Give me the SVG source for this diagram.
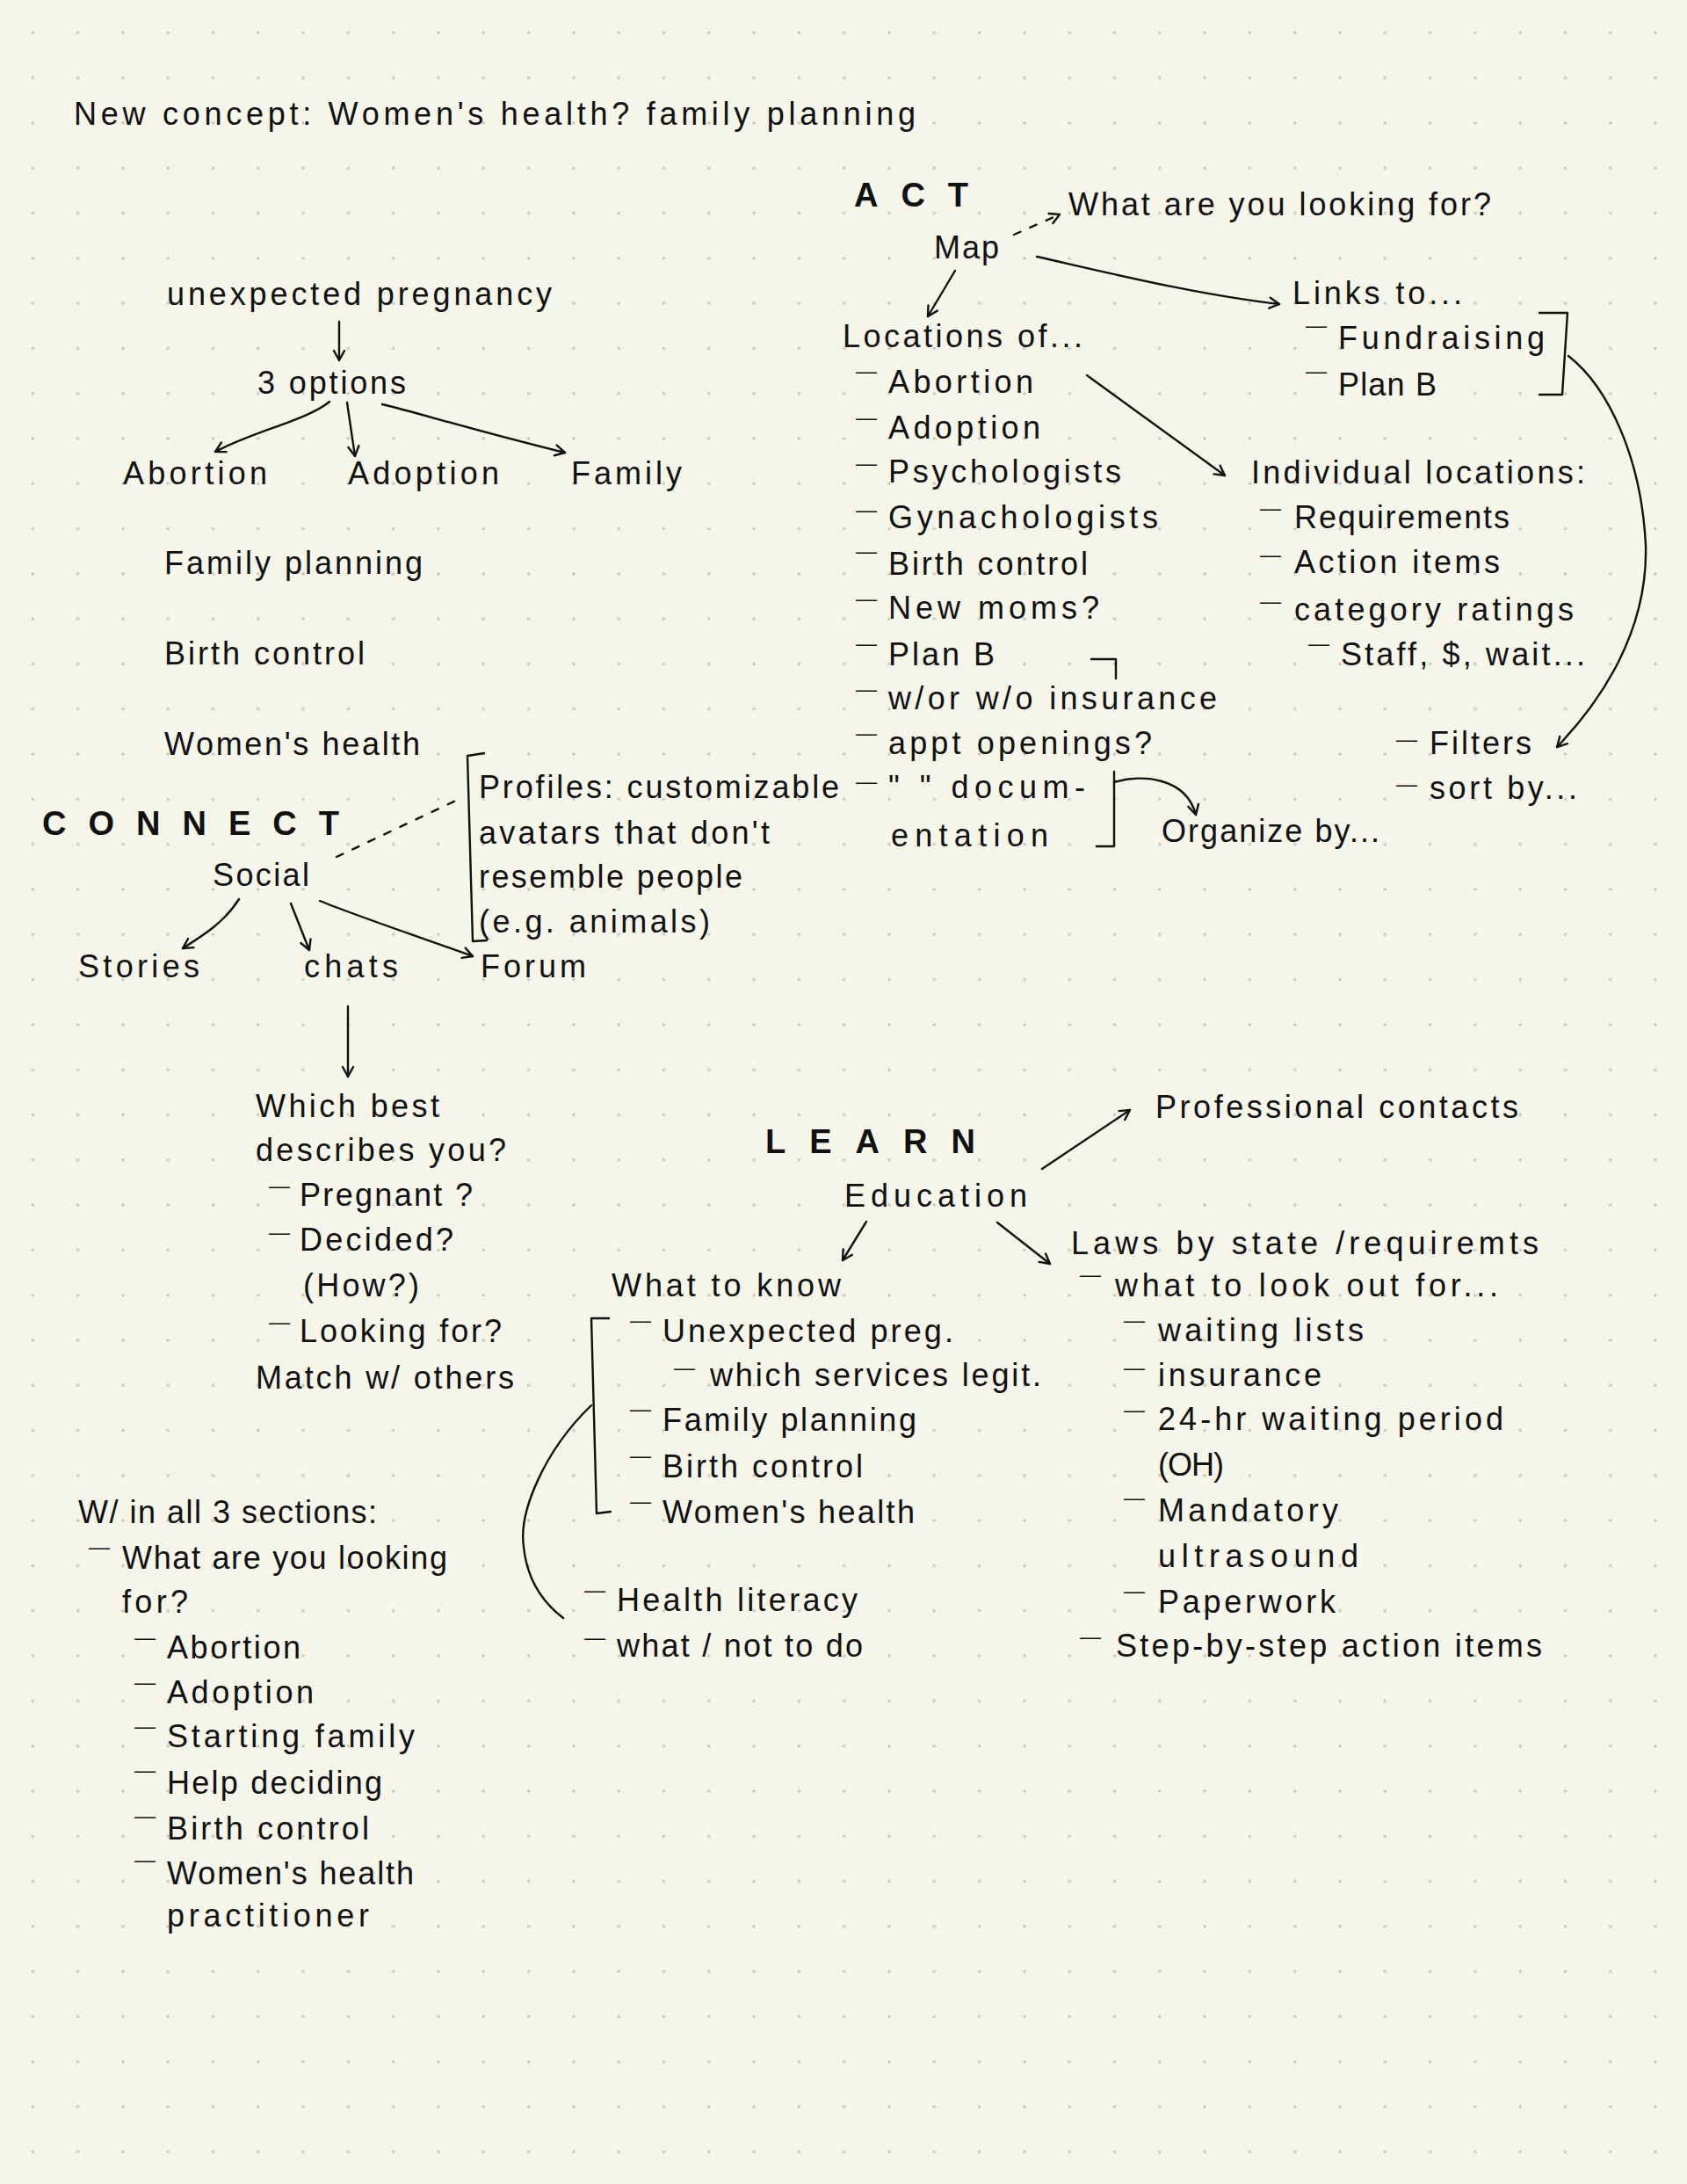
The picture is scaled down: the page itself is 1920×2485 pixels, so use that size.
<svg xmlns="http://www.w3.org/2000/svg" width="1920" height="2485" viewBox="0 0 1920 2485">
<defs>
<pattern id="dots" x="11.65" y="11.65" width="51.3" height="51.3" patternUnits="userSpaceOnUse">
<circle cx="25.65" cy="25.65" r="1.8" fill="#c6c6bd"/>
</pattern>
<marker id="ah" viewBox="0 0 16 16" refX="13" refY="8" markerWidth="16" markerHeight="16" markerUnits="userSpaceOnUse" orient="auto">
<path d="M2,2 L13,8 L2,14" fill="none" stroke="#111" stroke-width="2.4" stroke-linecap="round" stroke-linejoin="round"/>
</marker>
<style>
.t{font-family:"Liberation Sans",Arial,sans-serif;font-size:36px;fill:#111;}
.d{font-family:"Liberation Sans",Arial,sans-serif;font-size:24px;fill:#111;}
.h{font-family:"Liberation Sans",Arial,sans-serif;font-size:38px;font-weight:bold;fill:#111;}
.c{fill:none;stroke:#111;stroke-width:2.4;stroke-linecap:round;stroke-linejoin:round;}
.a{marker-end:url(#ah);}
.ds{stroke-dasharray:8 12;}
</style>
</defs>
<rect width="1920" height="2485" fill="#f5f5ea"/>
<rect width="1920" height="2485" fill="url(#dots)"/>

<g id="connectors">
<path class="c a" d="M386,366 L386,410"/>
<path class="c a" d="M375,457 C350,478 290,490 245,514"/>
<path class="c a" d="M395,458 L404,519"/>
<path class="c a" d="M435,460 C470,468 540,490 643,515"/>
<path class="c a ds" d="M1154,267 L1206,244"/>
<path class="c a" d="M1180,292 C1260,310 1360,335 1456,346"/>
<path class="c a" d="M1087,308 L1056,360"/>
<path class="c a" d="M1237,427 L1394,541"/>
<path class="c" d="M1752,356 L1784,356 L1778,449 L1752,449"/>
<path class="c a" d="M1785,405 C1830,440 1868,520 1873,620 C1876,720 1820,800 1772,850"/>
<path class="c" d="M1242,750 L1270,750 L1270,772"/>
<path class="c" d="M1268,878 L1268,963 L1248,963"/>
<path class="c a" d="M1268,890 C1300,880 1350,885 1361,927"/>
<path class="c ds" d="M383,975 L525,908"/>
<path class="c" d="M551,857 L532,860 L538,1071 L554,1070"/>
<path class="c a" d="M272,1023 C255,1050 230,1065 208,1079"/>
<path class="c a" d="M331,1028 L352,1081"/>
<path class="c a" d="M364,1025 C400,1040 460,1060 538,1088"/>
<path class="c a" d="M396,1145 L396,1225"/>
<path class="c a" d="M1186,1330 L1286,1263"/>
<path class="c a" d="M986,1390 L959,1434"/>
<path class="c a" d="M1135,1391 L1195,1438"/>
<path class="c" d="M693,1500 L673,1500 L679,1722 L695,1720"/>
<path class="c" d="M673,1599 C620,1650 590,1720 596,1760 C600,1800 620,1825 641,1841"/>
</g>

<g id="title"><text class="t" x="84" y="142" textLength="958">New concept: Women's health? family planning</text></g>

<g id="unexpected-pregnancy"><text class="t" x="190" y="347" textLength="438">unexpected pregnancy</text></g>
<g id="three-options"><text class="t" x="293" y="448" textLength="169">3 options</text></g>
<g id="opt-abortion"><text class="t" x="140" y="551" textLength="164">Abortion</text></g>
<g id="opt-adoption"><text class="t" x="396" y="551" textLength="172">Adoption</text></g>
<g id="opt-family"><text class="t" x="650" y="551" textLength="126">Family</text></g>
<g id="family-planning"><text class="t" x="187" y="653" textLength="294">Family planning</text></g>
<g id="birth-control"><text class="t" x="187" y="756" textLength="228">Birth control</text></g>
<g id="womens-health"><text class="t" x="187" y="859" textLength="291">Women's health</text></g>

<g id="connect"><text class="h" x="48" y="950" textLength="338">CONNECT</text></g>
<g id="profiles">
<text class="t" x="545" y="908" textLength="410">Profiles: customizable</text>
<text class="t" x="545" y="960" textLength="331">avatars that don't</text>
<text class="t" x="545" y="1010" textLength="300">resemble people</text>
<text class="t" x="545" y="1061" textLength="263">(e.g. animals)</text>
</g>
<g id="social"><text class="t" x="242" y="1008" textLength="110">Social</text></g>
<g id="stories"><text class="t" x="89" y="1112" textLength="138">Stories</text></g>
<g id="chats"><text class="t" x="346" y="1112" textLength="107">chats</text></g>
<g id="forum"><text class="t" x="547" y="1112" textLength="120">Forum</text></g>
<g id="which-best">
<text class="t" x="291" y="1271" textLength="209">Which best</text>
<text class="t" x="291" y="1321" textLength="285">describes you?</text>
<text class="d" x="306" y="1357">—</text><text class="t" x="341" y="1372" textLength="197">Pregnant ?</text>
<text class="d" x="306" y="1410">—</text><text class="t" x="341" y="1423" textLength="175">Decided?</text>
<text class="t" x="345" y="1475" textLength="132">(How?)</text>
<text class="d" x="306" y="1512">—</text><text class="t" x="341" y="1527" textLength="230">Looking for?</text>
<text class="t" x="291" y="1580" textLength="294">Match w/ others</text>
</g>

<g id="act"><text class="h" x="972" y="235" textLength="130">ACT</text></g>
<g id="what-looking"><text class="t" x="1216" y="245" textLength="481">What are you looking for?</text></g>
<g id="map"><text class="t" x="1063" y="294" textLength="74">Map</text></g>
<g id="links-to">
<text class="t" x="1471" y="346" textLength="193">Links to...</text>
<text class="d" x="1486" y="378">—</text><text class="t" x="1523" y="397" textLength="235">Fundraising</text>
<text class="d" x="1486" y="430">—</text><text class="t" x="1523" y="450" textLength="112">Plan B</text>
</g>
<g id="locations-of">
<text class="t" x="959" y="395" textLength="273">Locations of...</text>
<text class="d" x="974" y="430">—</text><text class="t" x="1011" y="447" textLength="165">Abortion</text>
<text class="d" x="974" y="483">—</text><text class="t" x="1011" y="499" textLength="173">Adoption</text>
<text class="d" x="974" y="535">—</text><text class="t" x="1011" y="549" textLength="265">Psychologists</text>
<text class="d" x="974" y="588">—</text><text class="t" x="1011" y="601" textLength="307">Gynachologists</text>
<text class="d" x="974" y="635">—</text><text class="t" x="1011" y="654" textLength="227">Birth control</text>
<text class="d" x="974" y="689">—</text><text class="t" x="1011" y="704" textLength="240">New moms?</text>
<text class="d" x="974" y="740">—</text><text class="t" x="1011" y="757" textLength="121">Plan B</text>
<text class="d" x="974" y="792">—</text><text class="t" x="1011" y="807" textLength="374">w/or w/o insurance</text>
<text class="d" x="974" y="842">—</text><text class="t" x="1011" y="858" textLength="300">appt openings?</text>
<text class="d" x="974" y="897">—</text><text class="t" x="1011" y="908" textLength="224">" " docum-</text>
<text class="t" x="1014" y="963" textLength="179">entation</text>
</g>
<g id="organize-by"><text class="t" x="1322" y="958" textLength="248">Organize by...</text></g>
<g id="individual-locations">
<text class="t" x="1424" y="550" textLength="380">Individual locations:</text>
<text class="d" x="1434" y="586">—</text><text class="t" x="1473" y="601" textLength="245">Requirements</text>
<text class="d" x="1434" y="639">—</text><text class="t" x="1473" y="652" textLength="234">Action items</text>
<text class="d" x="1434" y="692">—</text><text class="t" x="1473" y="706" textLength="318">category ratings</text>
<text class="d" x="1489" y="740">—</text><text class="t" x="1526" y="757" textLength="278">Staff, $, wait...</text>
</g>
<g id="filters">
<text class="d" x="1589" y="849">—</text><text class="t" x="1627" y="858" textLength="116">Filters</text>
<text class="d" x="1589" y="900">—</text><text class="t" x="1627" y="909" textLength="168">sort by...</text>
</g>

<g id="learn"><text class="h" x="871" y="1312" textLength="239">LEARN</text></g>
<g id="education"><text class="t" x="961" y="1373" textLength="208">Education</text></g>
<g id="professional-contacts"><text class="t" x="1315" y="1272" textLength="413">Professional contacts</text></g>
<g id="what-to-know">
<text class="t" x="696" y="1475" textLength="261">What to know</text>
<text class="d" x="717" y="1510">—</text><text class="t" x="754" y="1527" textLength="331">Unexpected preg.</text>
<text class="d" x="767" y="1564">—</text><text class="t" x="808" y="1577" textLength="377">which services legit.</text>
<text class="d" x="717" y="1611">—</text><text class="t" x="754" y="1628" textLength="289">Family planning</text>
<text class="d" x="717" y="1664">—</text><text class="t" x="754" y="1681" textLength="228">Birth control</text>
<text class="d" x="717" y="1716">—</text><text class="t" x="754" y="1733" textLength="287">Women's health</text>
</g>
<g id="health-literacy">
<text class="d" x="665" y="1817">—</text><text class="t" x="702" y="1833" textLength="274">Health literacy</text>
<text class="d" x="665" y="1871">—</text><text class="t" x="702" y="1885" textLength="280">what / not to do</text>
</g>
<g id="laws">
<text class="t" x="1219" y="1427" textLength="532">Laws by state /requiremts</text>
<text class="d" x="1229" y="1458">—</text><text class="t" x="1269" y="1475" textLength="436">what to look out for...</text>
<text class="d" x="1279" y="1510">—</text><text class="t" x="1318" y="1526" textLength="234">waiting lists</text>
<text class="d" x="1279" y="1564">—</text><text class="t" x="1318" y="1577" textLength="186">insurance</text>
<text class="d" x="1279" y="1612">—</text><text class="t" x="1318" y="1627" textLength="393">24-hr waiting period</text>
<text class="t" x="1318" y="1679" textLength="75">(OH)</text>
<text class="d" x="1279" y="1712">—</text><text class="t" x="1318" y="1731" textLength="205">Mandatory</text>
<text class="t" x="1318" y="1783" textLength="228">ultrasound</text>
<text class="d" x="1279" y="1818">—</text><text class="t" x="1318" y="1835" textLength="202">Paperwork</text>
<text class="d" x="1229" y="1870">—</text><text class="t" x="1270" y="1885" textLength="485">Step-by-step action items</text>
</g>

<g id="all-sections">
<text class="t" x="89" y="1733" textLength="340">W/ in all 3 sections:</text>
<text class="d" x="101" y="1768">—</text><text class="t" x="139" y="1785" textLength="370">What are you looking</text>
<text class="t" x="139" y="1835" textLength="75">for?</text>
<text class="d" x="153" y="1871">—</text><text class="t" x="190" y="1887" textLength="152">Abortion</text>
<text class="d" x="153" y="1922">—</text><text class="t" x="190" y="1938" textLength="167">Adoption</text>
<text class="d" x="153" y="1972">—</text><text class="t" x="190" y="1988" textLength="282">Starting family</text>
<text class="d" x="153" y="2022">—</text><text class="t" x="190" y="2041" textLength="245">Help deciding</text>
<text class="d" x="153" y="2074">—</text><text class="t" x="190" y="2093" textLength="230">Birth control</text>
<text class="d" x="153" y="2124">—</text><text class="t" x="190" y="2144" textLength="281">Women's health</text>
<text class="t" x="190" y="2192" textLength="230">practitioner</text>
</g>
</svg>
